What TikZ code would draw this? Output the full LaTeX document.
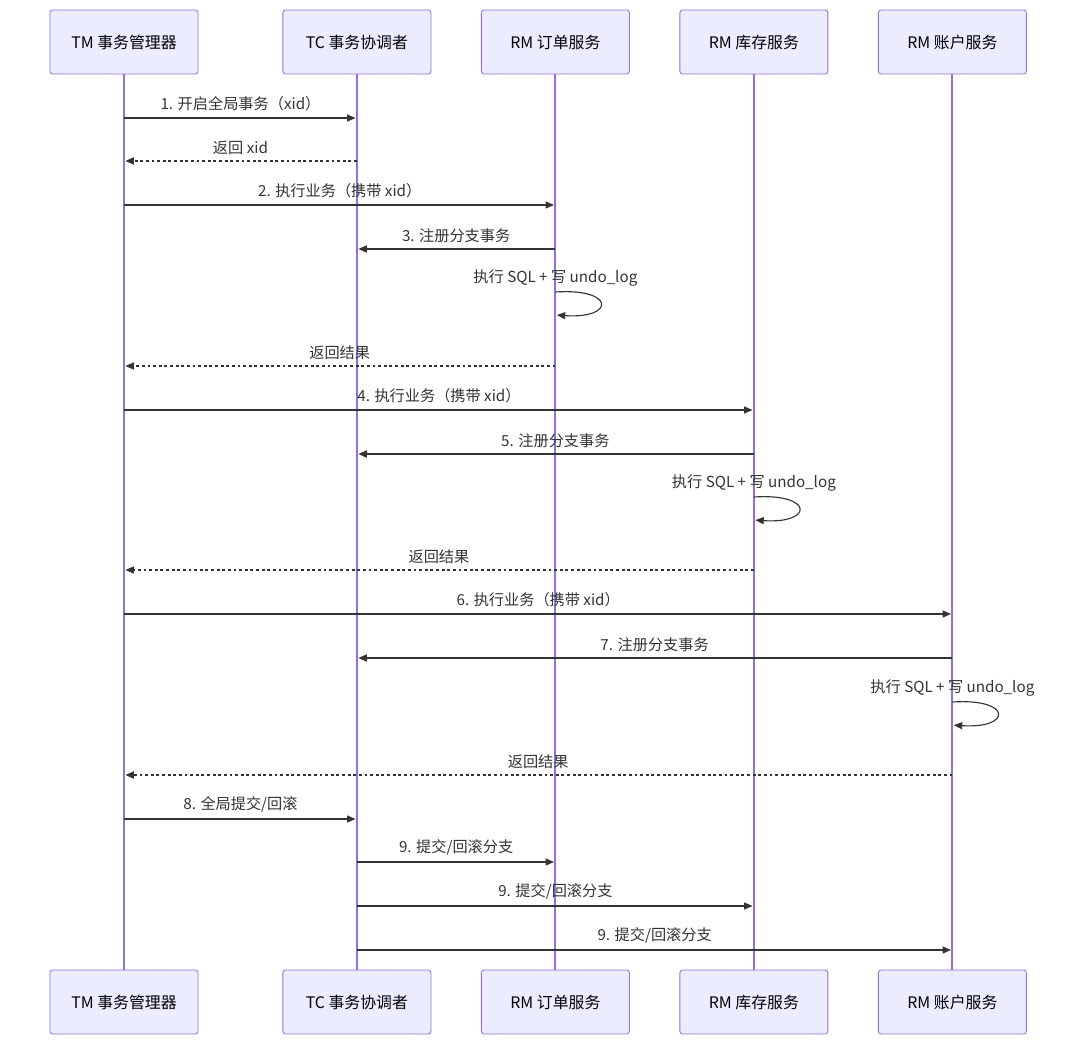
\documentclass[tikz,border=0pt]{standalone}
\usepackage{fontspec}
\setmainfont{Noto Sans CJK SC}
\usepackage{tikz}
\usetikzlibrary{positioning}
\usetikzlibrary{arrows.meta}

\definecolor{actfill}{HTML}{ECECFF}
\definecolor{actline}{HTML}{9370DB}
\definecolor{msgline}{HTML}{333333}

\begin{document}
\begin{tikzpicture}[x=0.025cm, y=-0.025cm,
      actor/.style = {draw=actline, fill=actfill, rounded corners=2pt,
                      minimum width=3.7cm, minimum height=1.6cm,
                      line width=0.6pt, font=\fontsize{11.3}{13}\selectfont},
       life/.style = {draw=actline, line width=1.45pt},
        msg/.style = {draw=msgline, line width=0.8pt, shorten >=1pt,
                      -{Triangle[length=6pt,width=5pt]}},
      reply/.style = {msg, dash pattern=on 2pt off 2pt},
        lbl/.style = {text=msgline, font=\fontsize{10.8}{13}\selectfont}]
  \useasboundingbox (0,0) rectangle (1092,1053);
  % participants, top row
  \node[actor] (tm) at (124,42) {TM 事务管理器};
  \node[actor] (tc) [right=2.1cm of tm] {TC 事务协调者};
  \node[actor] (ord) [right=1.24cm of tc] {RM 订单服务};
  \node[actor] (inv) [right=1.24cm of ord] {RM 库存服务};
  \node[actor] (acc) [right=1.24cm of inv] {RM 账户服务};
  % participants, bottom row
  \node[actor] (tmB) at (124,1002) {TM 事务管理器};
  \node[actor] (tcB) [right=2.1cm of tmB] {TC 事务协调者};
  \node[actor] (ordB) [right=1.24cm of tcB] {RM 订单服务};
  \node[actor] (invB) [right=1.24cm of ordB] {RM 库存服务};
  \node[actor] (accB) [right=1.24cm of invB] {RM 账户服务};
  % lifelines
  \draw[life] (tm) -- (tmB);
  \draw[life] (tc) -- (tcB);
  \draw[life] (ord) -- (ordB);
  \draw[life] (inv) -- (invB);
  \draw[life] (acc) -- (accB);

  \draw[msg] (tm |- 0,118) -- node[lbl, above=1pt] {1. 开启全局事务（xid）} (tc |- 0,118);
  \draw[reply] (tc |- 0,161) -- node[lbl, above=1pt] {返回 xid} (tm |- 0,161);
  \draw[msg] (tm |- 0,205) -- node[lbl, above=1pt] {2. 执行业务（携带 xid）} (ord |- 0,205);
  \draw[msg] (ord |- 0,249) -- node[lbl, above=1pt] {3. 注册分支事务} (tc |- 0,249);
  \node[lbl] (ordNote) at (ord |- 0,278) {执行 SQL + 写 undo\_log};
  \draw[msg] (ord |- 0,292) .. controls +(60,-4) and +(60,4) .. (ord |- 0,315);
  \draw[reply] (ord |- 0,366) -- node[lbl, above=1pt] {返回结果} (tm |- 0,366);

  \draw[msg] (tm |- 0,410) -- node[lbl, above=1pt] {4. 执行业务（携带 xid）} (inv |- 0,410);
  \draw[msg] (inv |- 0,454) -- node[lbl, above=1pt] {5. 注册分支事务} (tc |- 0,454);
  \node[lbl] (invNote) at (inv |- 0,483) {执行 SQL + 写 undo\_log};
  \draw[msg] (inv |- 0,497) .. controls +(60,-4) and +(60,4) .. (inv |- 0,520);
  \draw[reply] (inv |- 0,570) -- node[lbl, above=1pt] {返回结果} (tm |- 0,570);

  \draw[msg] (tm |- 0,614) -- node[lbl, above=1pt] {6. 执行业务（携带 xid）} (acc |- 0,614);
  \draw[msg] (acc |- 0,658) -- node[lbl, above=1pt] {7. 注册分支事务} (tc |- 0,658);
  \node[lbl] (accNote) at (acc |- 0,688) {执行 SQL + 写 undo\_log};
  \draw[msg] (acc |- 0,702) .. controls +(60,-4) and +(60,4) .. (acc |- 0,725);
  \draw[reply] (acc |- 0,775) -- node[lbl, above=1pt] {返回结果} (tm |- 0,775);

  \draw[msg] (tm |- 0,819) -- node[lbl, above=1pt] {8. 全局提交/回滚} (tc |- 0,819);
  \draw[msg] (tc |- 0,862) -- node[lbl, above=1pt] {9. 提交/回滚分支} (ord |- 0,862);
  \draw[msg] (tc |- 0,906) -- node[lbl, above=1pt] {9. 提交/回滚分支} (inv |- 0,906);
  \draw[msg] (tc |- 0,950) -- node[lbl, above=1pt] {9. 提交/回滚分支} (acc |- 0,950);
\end{tikzpicture}
\end{document}
